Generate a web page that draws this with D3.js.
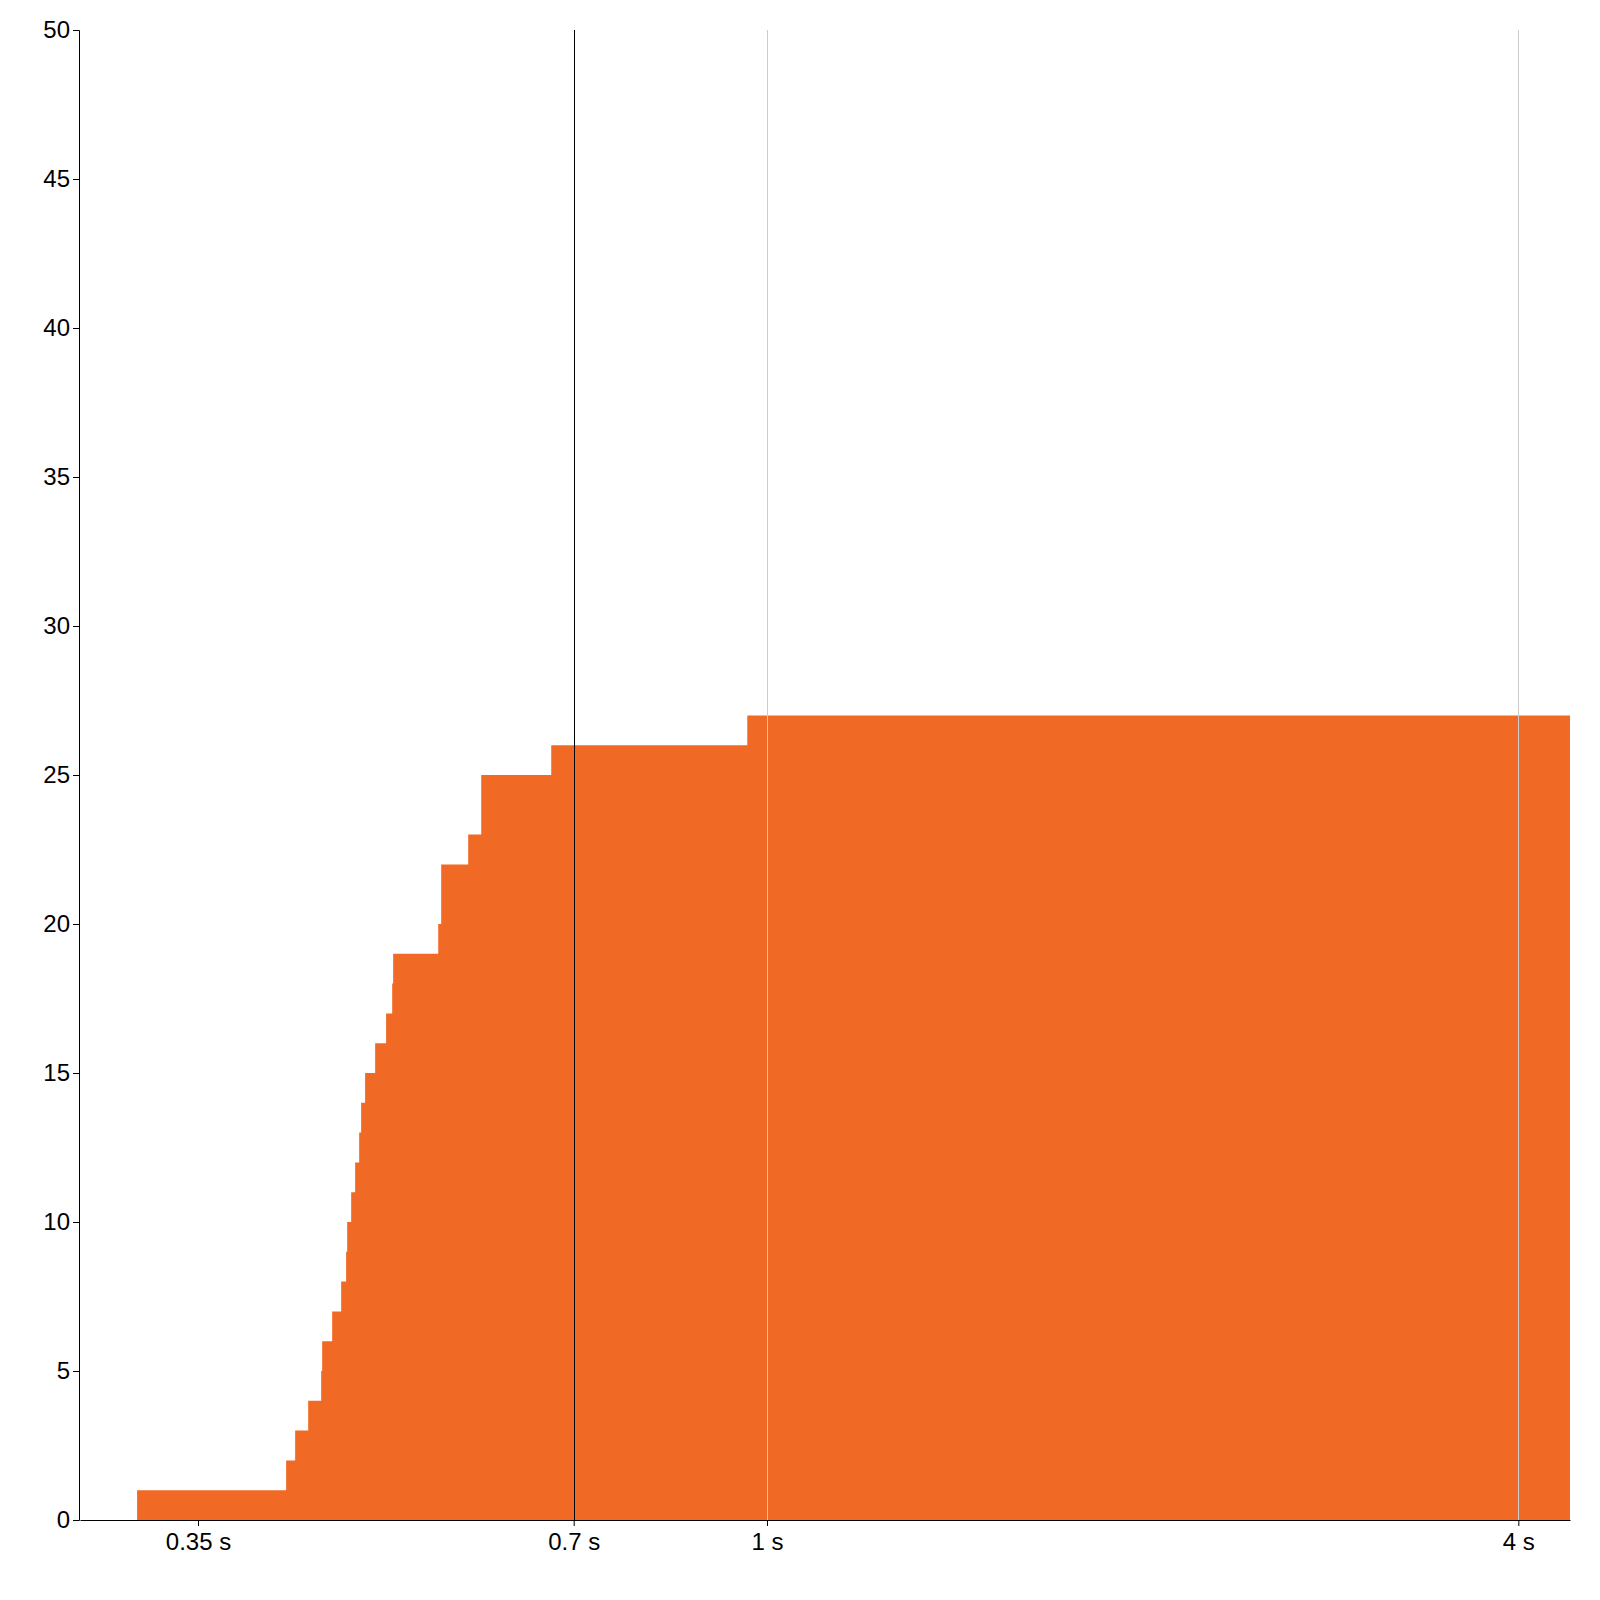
<!DOCTYPE html>
<html>
<head>
<meta charset="utf-8">
<script src="https://cdn.jsdelivr.net/npm/d3@7"></script>
<style>
  html, body { margin: 0; padding: 0; background: #fff; }
  svg { display: block; }
  .axis text { font-family: "Liberation Sans", Arial, sans-serif; font-size: 24px; fill: #000; }
  .axis path, .axis line { stroke: #000; }
</style>
</head>
<body>
<svg id="chart" width="1600" height="1600"></svg>
<script>
// Sorted sample times (seconds); the cumulative count steps up by one at each
const times = [0.3128, 0.4118, 0.4187, 0.4289, 0.4393, 0.4401, 0.4483, 0.4558, 0.4600,
  0.4609, 0.4643, 0.4677, 0.4712, 0.4729, 0.4764, 0.4853, 0.4952, 0.5008, 0.5017,
  0.5452, 0.5482, 0.5482, 0.5762, 0.5902, 0.5902, 0.6716, 0.9643];
const endTime = 4.4;
const xTickValues = [0.35, 0.7, 1, 4];
const gridValues = [1, 4];
const thresholdValue = 0.7;
const yMax = 50;

const margin = {top: 30, right: 30, bottom: 80, left: 80};
const width = 1600, height = 1600;
const svg = d3.select("#chart");

const x = d3.scaleLog()
  .domain([d3.min(times) * 0.9, endTime])
  .range([margin.left, width - margin.right]);
const y = d3.scaleLinear()
  .domain([0, yMax])
  .range([height - margin.bottom, margin.top]);

const points = times.map((t, i) => ({t: t, c: i + 1}));
points.push({t: endTime, c: times.length});

const area = d3.area()
  .curve(d3.curveStepAfter)
  .x(d => x(d.t))
  .y0(y(0))
  .y1(d => y(d.c));

svg.append("path")
  .datum(points)
  .attr("fill", "#f16a25")
  .attr("d", area);

// grid lines
svg.append("g").selectAll("line")
  .data(gridValues)
  .join("line")
  .attr("x1", d => Math.round(x(d)) + 0.5)
  .attr("x2", d => Math.round(x(d)) + 0.5)
  .attr("y1", y(yMax))
  .attr("y2", y(0))
  .attr("stroke", "#cccccc")
  .attr("stroke-width", 1);

// threshold line
svg.append("line")
  .attr("x1", Math.round(x(thresholdValue)) + 0.5)
  .attr("x2", Math.round(x(thresholdValue)) + 0.5)
  .attr("y1", y(yMax))
  .attr("y2", y(0))
  .attr("stroke", "#000")
  .attr("stroke-width", 1);

svg.append("g")
  .attr("class", "axis")
  .attr("transform", `translate(0,${y(0)})`)
  .call(d3.axisBottom(x)
    .tickValues(xTickValues)
    .tickFormat(d => d + " s")
    .tickSizeOuter(0)
    .tickPadding(7));

svg.append("g")
  .attr("class", "axis")
  .attr("transform", `translate(${margin.left - 1},0)`)
  .call(d3.axisLeft(y).ticks(10));
</script>
</body>
</html>
